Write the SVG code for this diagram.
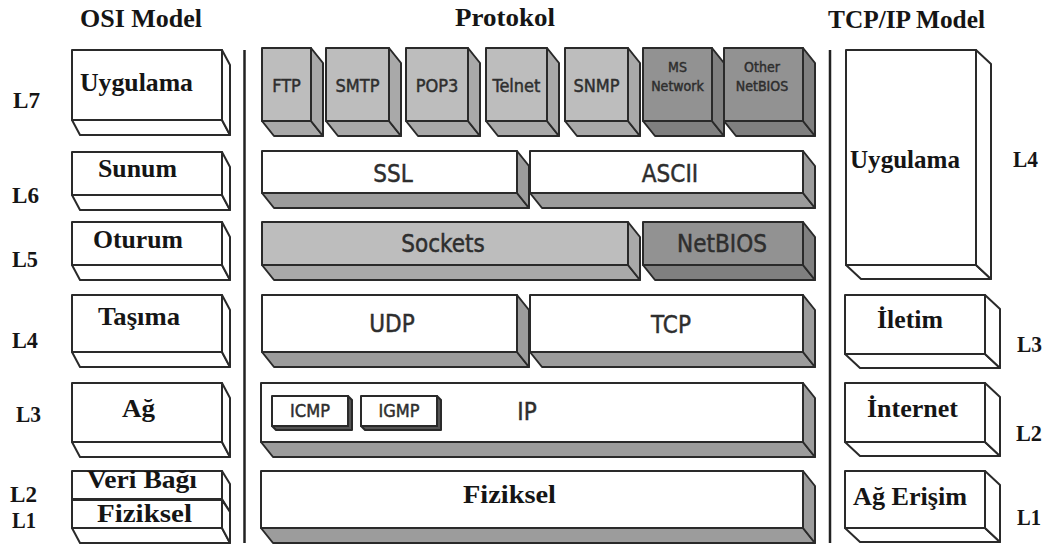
<svg xmlns="http://www.w3.org/2000/svg" width="1051" height="547" viewBox="0 0 1051 547">
<style>
.ln{stroke:#2a2a2a;stroke-width:2;stroke-linejoin:round}
.w{fill:#ffffff}
.g1{fill:#bdbdbd}
.g1s{fill:#a9a9a9}
.g2{fill:#929292}
.g2s{fill:#808080}
.gs{fill:#9c9c9c}
.serif{font-family:"Liberation Serif","Times New Roman",serif;font-weight:bold;fill:#151515}
.t{font-size:26px}
.lv{font-size:24px}
.sans{font-family:"DejaVu Sans Condensed","DejaVu Sans",sans-serif;font-stretch:condensed;fill:#2e2e2e;stroke:#2e2e2e;stroke-width:0.45;text-anchor:middle}
.s18{font-size:18px}
.s14{font-size:14px}
.s24{font-size:24px}
.div{stroke:#222;stroke-width:2.5}
</style>

<!-- titles -->
<g id="titles">
<text class="serif t" x="80" y="27" textLength="122" lengthAdjust="spacingAndGlyphs">OSI Model</text>
<text class="serif t" x="455" y="26" textLength="100" lengthAdjust="spacingAndGlyphs">Protokol</text>
<text class="serif t" x="828" y="28" textLength="157" lengthAdjust="spacingAndGlyphs">TCP/IP Model</text>
</g>

<!-- dividers -->
<g id="dividers">
<line class="div" x1="244.5" y1="50" x2="244.5" y2="543"/>
<line class="div" x1="830" y1="50" x2="830" y2="543"/>
</g>

<!-- level labels -->
<g id="levels">
<text class="serif lv" x="13" y="108" textLength="27" lengthAdjust="spacingAndGlyphs">L7</text>
<text class="serif lv" x="12" y="203" textLength="27" lengthAdjust="spacingAndGlyphs">L6</text>
<text class="serif lv" x="12" y="267" textLength="26" lengthAdjust="spacingAndGlyphs">L5</text>
<text class="serif lv" x="12" y="348" textLength="26" lengthAdjust="spacingAndGlyphs">L4</text>
<text class="serif lv" x="16" y="422" textLength="25" lengthAdjust="spacingAndGlyphs">L3</text>
<text class="serif lv" x="10" y="502" textLength="27" lengthAdjust="spacingAndGlyphs">L2</text>
<text class="serif lv" x="12" y="528" textLength="24" lengthAdjust="spacingAndGlyphs">L1</text>
<text class="serif lv" x="1013" y="167" textLength="25" lengthAdjust="spacingAndGlyphs">L4</text>
<text class="serif lv" x="1017" y="352" textLength="25" lengthAdjust="spacingAndGlyphs">L3</text>
<text class="serif lv" x="1016" y="441" textLength="26" lengthAdjust="spacingAndGlyphs">L2</text>
<text class="serif lv" x="1017" y="525" textLength="24" lengthAdjust="spacingAndGlyphs">L1</text>
</g>

<!-- OSI model boxes (dx=8, dy=15) -->
<g id="osi-uygulama">
<polygon class="w ln" points="72,120 80,135 230,135 222,120"/>
<polygon class="w ln" points="222,50 230,65 230,135 222,120"/>
<rect class="w ln" x="72" y="50" width="150" height="70"/>
<text class="serif t" x="80" y="91" textLength="113" lengthAdjust="spacingAndGlyphs">Uygulama</text>
</g>
<g id="osi-sunum">
<polygon class="w ln" points="72,195 80,210 230,210 222,195"/>
<polygon class="w ln" points="222,152 230,167 230,210 222,195"/>
<rect class="w ln" x="72" y="152" width="150" height="43"/>
<text class="serif t" x="98" y="177" textLength="79" lengthAdjust="spacingAndGlyphs">Sunum</text>
</g>
<g id="osi-oturum">
<polygon class="w ln" points="72,265 80,280 230,280 222,265"/>
<polygon class="w ln" points="222,222 230,237 230,280 222,265"/>
<rect class="w ln" x="72" y="222" width="150" height="43"/>
<text class="serif t" x="93" y="248" textLength="90" lengthAdjust="spacingAndGlyphs">Oturum</text>
</g>
<g id="osi-tasima">
<polygon class="w ln" points="72,352 80,367 230,367 222,352"/>
<polygon class="w ln" points="222,295 230,310 230,367 222,352"/>
<rect class="w ln" x="72" y="295" width="150" height="57"/>
<text class="serif t" x="98" y="325" textLength="82" lengthAdjust="spacingAndGlyphs">Taşıma</text>
</g>
<g id="osi-ag">
<polygon class="w ln" points="72,442 80,457 230,457 222,442"/>
<polygon class="w ln" points="222,383 230,398 230,457 222,442"/>
<rect class="w ln" x="72" y="383" width="150" height="59"/>
<text class="serif t" x="122" y="417" textLength="33" lengthAdjust="spacingAndGlyphs">Ağ</text>
</g>
<g id="osi-veribagi">
<polygon class="w ln" points="72,499 80,512 230,512 222,499"/>
<polygon class="w ln" points="222,471 230,484 230,512 222,499"/>
<rect class="w ln" x="72" y="471" width="150" height="28"/>
<text class="serif t" x="87" y="488" textLength="110" lengthAdjust="spacingAndGlyphs">Veri Bağı</text>
</g>
<g id="osi-fiziksel">
<polygon class="w ln" points="72,528 80,543 230,543 222,528"/>
<polygon class="w ln" points="222,500 230,512 230,543 222,528"/>
<rect class="w ln" x="72" y="500" width="150" height="28"/>
<text class="serif t" x="97" y="522" textLength="95" lengthAdjust="spacingAndGlyphs">Fiziksel</text>
</g>

<!-- Protocol application row (dx=12, dy=15) -->
<g id="p-ftp">
<polygon class="g1s ln" points="262,121 274,136 323,136 311,121"/>
<polygon class="g1s ln" points="311,48 323,63 323,136 311,121"/>
<rect class="g1 ln" x="262" y="48" width="49" height="73"/>
<text class="sans s18" x="286.5" y="92">FTP</text>
</g>
<g id="p-smtp">
<polygon class="g1s ln" points="326,121 338,136 401,136 389,121"/>
<polygon class="g1s ln" points="389,48 401,63 401,136 389,121"/>
<rect class="g1 ln" x="326" y="48" width="63" height="73"/>
<text class="sans s18" x="357.5" y="92">SMTP</text>
</g>
<g id="p-pop3">
<polygon class="g1s ln" points="406,121 418,136 480,136 468,121"/>
<polygon class="g1s ln" points="468,48 480,63 480,136 468,121"/>
<rect class="g1 ln" x="406" y="48" width="62" height="73"/>
<text class="sans s18" x="437" y="92">POP3</text>
</g>
<g id="p-telnet">
<polygon class="g1s ln" points="486,121 498,136 559,136 547,121"/>
<polygon class="g1s ln" points="547,48 559,63 559,136 547,121"/>
<rect class="g1 ln" x="486" y="48" width="61" height="73"/>
<text class="sans s18" x="516.5" y="92">Telnet</text>
</g>
<g id="p-snmp">
<polygon class="g1s ln" points="565,121 577,136 640,136 628,121"/>
<polygon class="g1s ln" points="628,48 640,63 640,136 628,121"/>
<rect class="g1 ln" x="565" y="48" width="63" height="73"/>
<text class="sans s18" x="596.5" y="92">SNMP</text>
</g>
<g id="p-msnetwork">
<polygon class="g2s ln" points="643,121 655,136 724,136 712,121"/>
<polygon class="g2s ln" points="712,48 724,63 724,136 712,121"/>
<rect class="g2 ln" x="643" y="48" width="69" height="73"/>
<text class="sans s14" x="677.5" y="72">MS</text>
<text class="sans s14" x="677.5" y="91">Network</text>
</g>
<g id="p-othernetbios">
<polygon class="g2s ln" points="724,121 736,136 815,136 803,121"/>
<polygon class="g2s ln" points="803,48 815,63 815,136 803,121"/>
<rect class="g2 ln" x="724" y="48" width="79" height="73"/>
<text class="sans s14" x="762" y="72">Other</text>
<text class="sans s14" x="762" y="91">NetBIOS</text>
</g>

<!-- SSL / ASCII -->
<g id="p-ssl">
<polygon class="gs ln" points="262,193 274,208 529,208 517,193"/>
<polygon class="gs ln" points="517,151 529,166 529,208 517,193"/>
<rect class="w ln" x="262" y="151" width="255" height="42"/>
<text class="sans s24" x="393" y="182">SSL</text>
</g>
<g id="p-ascii">
<polygon class="gs ln" points="530,193 542,208 815,208 803,193"/>
<polygon class="gs ln" points="803,151 815,166 815,208 803,193"/>
<rect class="w ln" x="530" y="151" width="273" height="42"/>
<text class="sans s24" x="670" y="182">ASCII</text>
</g>

<!-- Sockets / NetBIOS -->
<g id="p-sockets">
<polygon class="g1s ln" points="262,265 274,280 640,280 628,265"/>
<polygon class="g1s ln" points="628,222 640,237 640,280 628,265"/>
<rect class="g1 ln" x="262" y="222" width="366" height="43"/>
<text class="sans s24" x="443" y="252">Sockets</text>
</g>
<g id="p-netbios">
<polygon class="g2s ln" points="643,265 655,280 815,280 803,265"/>
<polygon class="g2s ln" points="803,222 815,237 815,280 803,265"/>
<rect class="g2 ln" x="643" y="222" width="160" height="43"/>
<text class="sans s24" x="722" y="252">NetBIOS</text>
</g>

<!-- UDP / TCP -->
<g id="p-udp">
<polygon class="gs ln" points="262,352 274,367 529,367 517,352"/>
<polygon class="gs ln" points="517,295 529,310 529,367 517,352"/>
<rect class="w ln" x="262" y="295" width="255" height="57"/>
<text class="sans s24" x="392" y="332">UDP</text>
</g>
<g id="p-tcp">
<polygon class="gs ln" points="530,352 542,367 815,367 803,352"/>
<polygon class="gs ln" points="803,295 815,310 815,367 803,352"/>
<rect class="w ln" x="530" y="295" width="273" height="57"/>
<text class="sans s24" x="671" y="333">TCP</text>
</g>

<!-- IP -->
<g id="p-ip">
<polygon class="gs ln" points="261,442 273,457 815,457 803,442"/>
<polygon class="gs ln" points="803,383 815,398 815,457 803,442"/>
<rect class="w ln" x="261" y="383" width="542" height="59"/>
<text class="sans s24" x="527" y="420">IP</text>
</g>
<g id="p-icmp">
<polygon fill="#555" class="ln" stroke-width="1.5" points="272,426 276,430 352,430 352,400 348,396 348,426"/>
<rect class="w ln" x="272" y="396" width="76" height="30"/>
<text class="sans s18" x="310" y="417">ICMP</text>
</g>
<g id="p-igmp">
<polygon fill="#555" class="ln" stroke-width="1.5" points="361,426 365,430 441,430 441,400 437,396 437,426"/>
<rect class="w ln" x="361" y="396" width="76" height="30"/>
<text class="sans s18" x="399" y="417">IGMP</text>
</g>

<!-- Fiziksel (protocol) -->
<g id="p-fiziksel">
<polygon class="gs ln" points="261,528 273,543 815,543 803,528"/>
<polygon class="gs ln" points="803,471 815,486 815,543 803,528"/>
<rect class="w ln" x="261" y="471" width="542" height="57"/>
<text class="serif t" x="463" y="503" textLength="93" lengthAdjust="spacingAndGlyphs">Fiziksel</text>
</g>

<!-- TCP/IP model boxes (dx=15, dy=14) -->
<g id="tcp-uygulama">
<polygon class="w ln" points="846,265 861,279 991,279 976,265"/>
<polygon class="w ln" points="976,50 991,64 991,279 976,265"/>
<rect class="w ln" x="846" y="50" width="130" height="215"/>
<text class="serif t" x="850" y="168" textLength="110" lengthAdjust="spacingAndGlyphs">Uygulama</text>
</g>
<g id="tcp-iletim">
<polygon class="w ln" points="845,354 860,368 1000,368 985,354"/>
<polygon class="w ln" points="985,295 1000,309 1000,368 985,354"/>
<rect class="w ln" x="845" y="295" width="140" height="59"/>
<text class="serif t" x="877" y="328" textLength="66" lengthAdjust="spacingAndGlyphs">İletim</text>
</g>
<g id="tcp-internet">
<polygon class="w ln" points="845,442 860,456 1000,456 985,442"/>
<polygon class="w ln" points="985,383 1000,397 1000,456 985,442"/>
<rect class="w ln" x="845" y="383" width="140" height="59"/>
<text class="serif t" x="867" y="417" textLength="91" lengthAdjust="spacingAndGlyphs">İnternet</text>
</g>
<g id="tcp-agerisim">
<polygon class="w ln" points="845,528 860,542 1000,542 985,528"/>
<polygon class="w ln" points="985,471 1000,485 1000,542 985,528"/>
<rect class="w ln" x="845" y="471" width="140" height="57"/>
<text class="serif t" x="853" y="505" textLength="114" lengthAdjust="spacingAndGlyphs">Ağ Erişim</text>
</g>
</svg>
